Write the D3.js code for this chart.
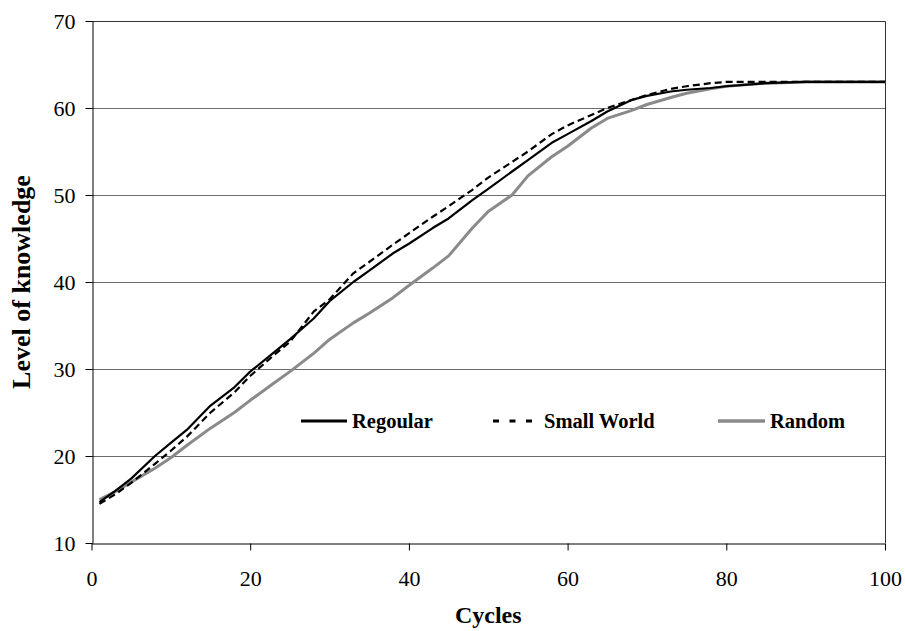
<!DOCTYPE html>
<html>
<head>
<meta charset="utf-8">
<script src="https://cdn.jsdelivr.net/npm/d3@7"></script>
<style>
  body { margin: 0; background: #fff; }
  svg { display: block; }
  text { font-family: "Liberation Serif", "Times New Roman", serif; fill: #000; }
</style>
</head>
<body>
<svg id="chart" width="905" height="631"></svg>
<script>
var cycles = [1,3,5,8,10,12,15,18,20,23,25,28,30,33,35,38,40,43,45,48,50,53,55,58,60,63,65,68,70,73,75,78,80,85,90,95,100];

var regoular = [14.7,16.0,17.4,20.0,21.5,23.0,25.8,27.9,29.7,31.9,33.4,35.8,37.8,40.0,41.3,43.3,44.4,46.2,47.3,49.4,50.7,52.7,54.0,56.0,57.0,58.5,59.6,60.9,61.4,61.9,62.1,62.3,62.5,62.85,63,63,63];
var smallWorld = [14.5,15.6,16.9,19.1,20.6,22.2,25.0,27.3,29.2,31.6,33.1,36.6,38.0,41.0,42.3,44.3,45.6,47.5,48.7,50.6,52.0,53.8,55.0,57.0,58.0,59.2,60.0,60.9,61.5,62.2,62.5,62.85,63,63,63,63,63];
var random = [15.0,15.9,17.0,18.6,19.8,21.2,23.2,25.0,26.4,28.4,29.7,31.8,33.4,35.3,36.4,38.2,39.6,41.6,43.0,46.2,48.1,50.0,52.2,54.4,55.6,57.7,58.8,59.7,60.4,61.2,61.7,62.2,62.5,62.85,63,63,63];

var seriesNames = ["Regoular", "Small World", "Random"];
var xTicks = [0, 20, 40, 60, 80, 100];
var yTicks = [10, 20, 30, 40, 50, 60, 70];

var svg = d3.select("#chart");

// plot area edges (top is taken by window.top, so prefix them)
var plotLeft = 91.5, plotRight = 885, plotTop = 21, plotBottom = 543;

var x = d3.scaleLinear()
  .domain([0, 100])
  .range([plotLeft, plotRight]);

var y = d3.scaleLinear()
  .domain([10, 70])
  .range([plotBottom, plotTop]);

// gridlines
svg.append("g")
  .selectAll("line")
  .data(yTicks.filter(function(d) { return d > 10 && d < 70; }))
  .enter()
    .append("line")
    .attr("x1", plotLeft)
    .attr("x2", plotRight)
    .attr("y1", function(d) { return Math.round(y(d)) + 0.5; })
    .attr("y2", function(d) { return Math.round(y(d)) + 0.5; })
    .attr("stroke", "#6b6b6b")
    .attr("stroke-width", 1);

// top + right border of plot area
svg.append("path")
  .attr("d", "M" + plotLeft + "," + (Math.round(y(70)) + 0.5) + "H" + (plotRight + 0.5) + "V" + plotBottom)
  .attr("fill", "none")
  .attr("stroke", "#333")
  .attr("stroke-width", 1);

svg.append("g")
  .attr("transform", "translate(" + (Math.round(plotLeft) + 0.5) + ",0)")
  .call(d3.axisLeft(y).tickValues(yTicks).tickSize(7).tickPadding(10).tickSizeOuter(0));

svg.append("g")
  .attr("transform", "translate(0," + (Math.round(plotBottom) + 0.5) + ")")
  .call(d3.axisBottom(x).tickValues(xTicks).tickSize(7).tickPadding(20).tickSizeOuter(0));

svg.selectAll(".tick text")
  .attr("font-size", 22)
  .attr("font-family", "Liberation Serif");
svg.selectAll(".domain, .tick line")
  .attr("stroke", "#000");

// axis titles
svg.append("text")
  .attr("x", (plotLeft + plotRight) / 2)
  .attr("y", 623)
  .attr("text-anchor", "middle")
  .attr("font-size", 24)
  .attr("font-weight", "bold")
  .text("Cycles");

svg.append("text")
  .attr("transform", "translate(30," + ((plotTop + plotBottom) / 2) + ") rotate(-90)")
  .attr("text-anchor", "middle")
  .attr("font-size", 26)
  .attr("font-weight", "bold")
  .text("Level of knowledge");

// lines
var line = d3.line()
  .x(function(d) { return x(d[0]); })
  .y(function(d) { return y(d[1]); });

function pairs(vals) {
  return cycles.map(function(c, i) { return [c, vals[i]]; });
}

var styles = [
  {color: "#000", width: 2.2, dash: null},
  {color: "#000", width: 2.2, dash: "7,4"},
  {color: "#8a8a8a", width: 3, dash: null}
];
var allSeries = [regoular, smallWorld, random];

// draw random first so the black lines sit on top
[2, 0, 1].forEach(function(i) {
  svg.append("path")
    .datum(pairs(allSeries[i]))
    .attr("d", line)
    .attr("fill", "none")
    .attr("stroke", styles[i].color)
    .attr("stroke-width", styles[i].width)
    .attr("stroke-dasharray", styles[i].dash)
    .attr("stroke-linejoin", "round");
});

// legend
var legendX = [301, 493, 718];
var legendLen = [46, 39, 47];
var legendGap = [5, 12, 5];
var legendY = 421;

var legend = svg.selectAll(".legend")
  .data(seriesNames)
  .enter()
    .append("g")
    .attr("class", "legend");

legend.append("line")
  .attr("x1", function(d, i) { return legendX[i]; })
  .attr("x2", function(d, i) { return legendX[i] + legendLen[i]; })
  .attr("y1", legendY)
  .attr("y2", legendY)
  .attr("stroke", function(d, i) { return styles[i].color; })
  .attr("stroke-width", function(d, i) { return styles[i].width + 0.6; })
  .attr("stroke-dasharray", function(d, i) { return styles[i].dash ? "6,10.5" : null; });

legend.append("text")
  .attr("x", function(d, i) { return legendX[i] + legendLen[i] + legendGap[i]; })
  .attr("y", legendY + 7)
  .attr("font-size", 20.5)
  .attr("font-weight", "bold")
  .text(function(d) { return d; });
</script>
</body>
</html>
